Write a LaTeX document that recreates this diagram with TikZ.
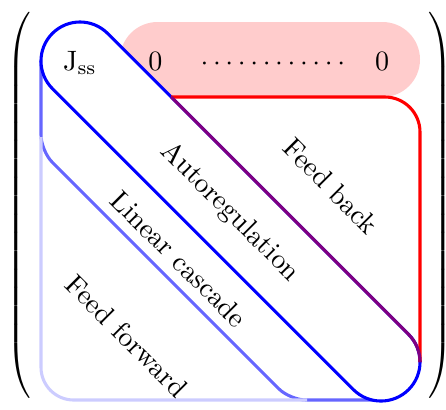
\documentclass[tikz,border=0pt]{standalone}
\usetikzlibrary{positioning}
\tikzstyle{region} = [line width=1.1pt]
\tikzstyle{band} = [rotate=-45, inner sep=0pt]
\tikzstyle{entry} = [anchor=base, inner sep=0pt]

\begin{document}
\begin{tikzpicture}[x=0.01255cm, y=-0.01255cm]
  \useasboundingbox (0,0) rectangle (446,409);
  \node (mat) at (230,207.5) [inner sep=0pt] {\scalebox{1}[1.093]{$\left(\rule[-62pt]{0pt}{124pt}\hspace{142pt}\right)$}};

  % zero row
  \fill[red!20, rounded corners=0.47cm] (120,22) rectangle (420,97);

  % linear cascade and feed forward
  \draw[region, blue!60, rounded corners=0.2cm] (41,61) -- (41,151) -- (290,400) -- (381,400);
  \draw[region, blue!20, rounded corners=0.41cm] (41,137) -- (41,400) -- (307,400);

  % autoregulation
  \draw[region, blue, fill=white, rounded corners=0.49cm] (258.1,183.9) -- (436.2,362) -- (381,417.2) -- (24.8,61) -- (80,5.8) -- cycle;

  % feed back
  \draw[region, red, rounded corners=0.44cm] (171,97) -- (420,97) -- (420,362);
  \begin{scope}
    \clip (165,90) -- (460,90) -- (460,362) -- (382,362) -- (165,145) -- cycle;
    \draw[region, red!50!blue, rounded corners=0.49cm] (171.2,97) -- (436.2,362) -- (381,417.2);
  \end{scope}

  \node (jss) at (80,70) [entry] {$\mathrm{J}_{\mathrm{ss}}$};
  \node (z1) at (155.5,70) [entry] {$0$};
  \node (dots) at (273,70) [entry] {$\cdots\cdots\cdots\cdots$};
  \node (z2) at (382,70) [entry] {$0$};

  \node (fb) at (331,186) [band] {Feed back};
  \node (auto) at (230,212) [band] {Autoregulation};
  \node (lin) at (179,259) [band] {Linear cascade};
  \node (ff) at (127,336) [band] {Feed forward};
\end{tikzpicture}
\end{document}
